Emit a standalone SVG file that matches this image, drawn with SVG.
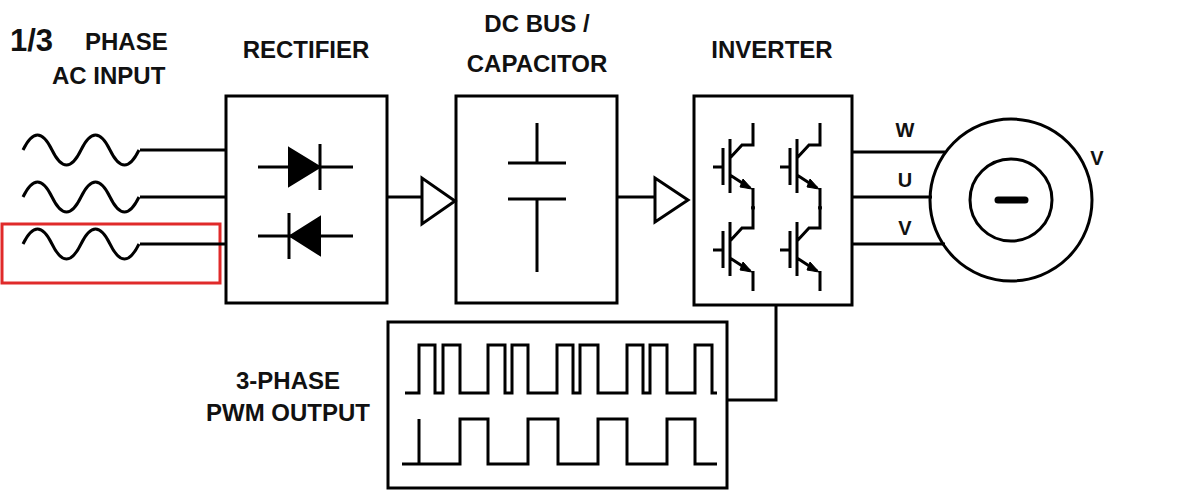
<svg xmlns="http://www.w3.org/2000/svg" width="1200" height="500" viewBox="0 0 1200 500">
<style>
.l{fill:none;stroke:#000;stroke-width:3;stroke-linejoin:miter}
.t{font-family:"Liberation Sans",Arial,sans-serif;font-weight:bold;font-size:24px;fill:#111}
.s{font-size:20px}
.f{fill:#000;stroke:#000;stroke-width:2}
</style>
<defs>
<path id="wave" d="M23,0 c9.7,-20 19.3,-20 29,0 s19.3,20 29,0 s19.3,-20 29,0 s19.3,20 29,0"/>
<g id="igbt">
<path d="M713,0 H723 M723,-19 V18 M730,-28 V26 M730,-9 L742,-22 H753 V-44 M730,8 L750,21 M753,21 V41"/>
<path d="M743,12 L752,22 L740,20 Z" fill="#000" stroke="#000" stroke-width="1"/>
</g>
</defs>
<rect width="1200" height="500" fill="#fff"/>
<g id="labels">
<text class="t" x="10" y="51" style="font-size:31px">1/3</text>
<text class="t" x="85" y="50">PHASE</text>
<text class="t" x="52" y="84">AC INPUT</text>
<text class="t" x="306" y="58" text-anchor="middle">RECTIFIER</text>
<text class="t" x="537" y="32" text-anchor="middle">DC BUS /</text>
<text class="t" x="537" y="72" text-anchor="middle">CAPACITOR</text>
<text class="t" x="772" y="58" text-anchor="middle">INVERTER</text>
<text class="t" x="288" y="389" text-anchor="middle">3-PHASE</text>
<text class="t" x="288" y="421" text-anchor="middle">PWM OUTPUT</text>
<text class="t s" x="905" y="137" text-anchor="middle">W</text>
<text class="t s" x="905" y="187" text-anchor="middle">U</text>
<text class="t s" x="905" y="235" text-anchor="middle">V</text>
<text class="t s" x="1097" y="165" text-anchor="middle">V</text>
</g>
<g id="ac-input">
<use href="#wave" class="l" transform="translate(0,150)"/>
<use href="#wave" class="l" transform="translate(0,197)"/>
<use href="#wave" class="l" transform="translate(0,244)"/>
<rect x="2" y="224" width="218" height="59" fill="none" stroke="#e02a2a" stroke-width="3"/>
</g>
<g id="rectifier">
<rect x="226" y="96" width="161" height="207" class="l"/>
<path class="l" d="M258,167 H353 M320,144 V190 M258,236 H353 M289,213 V259"/>
<path class="f" d="M289,148 L320,167 L289,186 Z"/>
<path class="f" d="M320,217 L290,236 L320,255 Z"/>
</g>
<g id="dc-bus">
<rect x="456" y="96" width="161" height="207" class="l"/>
<path class="l" d="M537,123 V163 M508,163 H566 M508,199 H566 M537,199 V272"/>
</g>
<g id="inverter">
<rect x="694" y="96" width="158" height="209" class="l"/>
<g class="l">
<use href="#igbt" transform="translate(0,167)"/>
<use href="#igbt" transform="translate(0,250)"/>
<use href="#igbt" transform="translate(67,167)"/>
<use href="#igbt" transform="translate(67,250)"/>
</g>
<circle cx="753" cy="208" r="2"/><circle cx="820" cy="208" r="2"/>
</g>
<g id="motor">
<circle cx="1011" cy="200" r="81" class="l"/>
<circle cx="1011" cy="200" r="41" class="l"/>
<path d="M998,200 H1025" stroke="#000" stroke-width="7" stroke-linecap="round"/>
</g>
<g id="pwm">
<rect x="388" y="322" width="339" height="166" class="l"/>
<path class="l" d="M405,393 H419 V345 H435 V393 H443 V345 H460 V393 H488 V345 H505 V393 H512 V345 H528 V393 H557 V345 H573 V393 H580 V345 H598 V393 H627 V345 H643 V393 H650 V345 H667 V393 H695 V345 H712 V393 H717"/>
<path class="l" d="M402,464 H460 V419 H488 V464 H528 V419 H558 V464 H598 V419 H627 V464 H667 V419 H695 V464 H717 M419,464 V419"/>
</g>
<g id="connectors">
<path class="l" d="M140,150 H226 M140,197 H226 M140,244 H226"/>
<path class="l" d="M387,197 H422 M422,178 V224 L455,201 Z"/>
<path class="l" d="M617,197 H655 M655,178 V222 L688,200 Z"/>
<path class="l" d="M852,152 H945 M852,197 H932 M852,244 H945"/>
<path class="l" d="M727,400 H776 V305"/>
</g>
</svg>
